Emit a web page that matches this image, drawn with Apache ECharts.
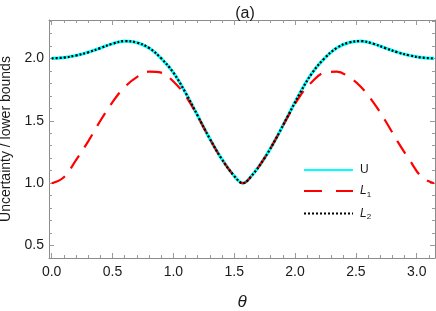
<!DOCTYPE html>
<html>
<head>
<meta charset="utf-8">
<script src="https://cdn.jsdelivr.net/npm/echarts@6/dist/echarts.min.js"></script>
<style>html,body{margin:0;padding:0;background:#fff;}#c{width:436px;height:311px;}</style>
</head>
<body>
<div id="c"></div>
<script>
// ---- data ----
const thetaVals = [0.000,0.100,0.200,0.300,0.400,0.500,0.600,0.700,0.800,0.900,1.000,1.100,1.200,1.300,1.400,1.500,1.571,
                   1.642,1.742,1.842,1.942,2.042,2.142,2.242,2.342,2.442,2.542,2.642,2.742,2.842,2.942,3.042,3.142];
const uVals  = [2.000,2.006,2.023,2.048,2.082,2.117,2.138,2.126,2.083,2.000,1.885,1.725,1.540,1.355,1.190,1.058,1.000,
                1.058,1.190,1.355,1.540,1.725,1.885,2.000,2.083,2.126,2.138,2.117,2.082,2.048,2.023,2.006,2.000];
const l1Vals = [1.000,1.048,1.185,1.335,1.500,1.650,1.770,1.850,1.893,1.885,1.815,1.700,1.535,1.355,1.190,1.058,1.000,
                1.058,1.190,1.355,1.535,1.700,1.815,1.885,1.893,1.850,1.770,1.650,1.500,1.335,1.185,1.048,1.000];
const l2Vals = [2.000,2.006,2.023,2.048,2.082,2.117,2.138,2.126,2.083,2.000,1.885,1.725,1.540,1.355,1.190,1.058,1.000,
                1.058,1.190,1.355,1.540,1.725,1.885,2.000,2.083,2.126,2.138,2.117,2.082,2.048,2.023,2.006,2.000];
const seriesNames = ['U','L1','L2'];
const xTickLabels = [0.0,0.5,1.0,1.5,2.0,2.5,3.0];
const yTickLabels = [0.5,1.0,1.5,2.0];
const xMinorTicks = []; for (let i = 0; i <= 31; i++) xMinorTicks.push(+(i*0.1).toFixed(1));
const yMinorTicks = []; for (let i = 5; i <= 23; i++) yMinorTicks.push(+(i*0.1).toFixed(1));

const X_MIN = -0.022, X_MAX = 3.150, Y_MIN = 0.401, Y_MAX = 2.307;
const frameColor = '#8c8c8c', tickColor = '#9a9a9a', txt = '#1a1a1a';
const font = 'Liberation Sans, Arial, sans-serif';

function pairs(xs, ys){ return xs.map((x,i)=>[x, ys[i]]); }

function xAx(pos, ticks, len, showLine, labels){
  return {type:'value', min:X_MIN, max:X_MAX, position:pos,
    axisLine:{show:showLine, onZero:false, lineStyle:{color:frameColor, width:1}},
    axisTick:{show:true, inside:true, length:len, customValues:ticks, lineStyle:{color:tickColor, width:1}},
    axisLabel: labels ? {show:true, customValues:xTickLabels, formatter:v=>(+v).toFixed(1), margin:7,
                         fontSize:14, color:txt, fontFamily:font} : {show:false},
    splitLine:{show:false}};
}
function yAx(pos, ticks, len, showLine, labels){
  return {type:'value', min:Y_MIN, max:Y_MAX, position:pos,
    axisLine:{show:showLine, onZero:false, lineStyle:{color:frameColor, width:1}},
    axisTick:{show:true, inside:true, length:len, customValues:ticks, lineStyle:{color:tickColor, width:1}},
    axisLabel: labels ? {show:true, customValues:yTickLabels, formatter:v=>(+v).toFixed(1), margin:5,
                         fontSize:14, color:txt, fontFamily:font} : {show:false},
    splitLine:{show:false}};
}

const xAxes = [xAx('bottom', xTickLabels, 5, true, true), xAx('bottom', xMinorTicks, 3, false, false),
               xAx('top', xTickLabels, 5, true, false), xAx('top', xMinorTicks, 3, false, false)];
Object.assign(xAxes[0], {name:'θ', nameLocation:'middle', nameGap:36,
  nameTextStyle:{fontStyle:'italic', fontSize:17, color:txt, fontFamily:font}});
const yAxes = [yAx('left', yTickLabels, 5, true, true), yAx('left', yMinorTicks, 3, false, false),
               yAx('right', yTickLabels, 5, true, false), yAx('right', yMinorTicks, 3, false, false)];
Object.assign(yAxes[0], {name:'Uncertainty / lower bounds', nameLocation:'middle', nameGap:36,
  nameTextStyle:{fontSize:14, color:txt, fontFamily:font}});

const chart = echarts.init(document.getElementById('c'), null, {renderer:'canvas'});
chart.setOption({
  animation:false,
  backgroundColor:'#ffffff',
  title:{text:'(a)', left:240, top:1, textAlign:'center',
    textStyle:{fontSize:16, fontWeight:'normal', color:txt, fontFamily:font}},
  grid:{left:49, right:1, top:20, bottom:53, containLabel:false, outerBoundsMode:'none'},
  xAxis:xAxes, yAxis:yAxes,
  legend:{orient:'vertical', left:298, top:159, itemWidth:49, itemHeight:14, itemGap:9,
    itemStyle:{opacity:0},
    data:[{name:'U'}, {name:'L1', lineStyle:{type:[18,14]}}, {name:'L2'}],
    formatter:n => n==='U' ? '{u|U}' : '{it|L}{sub|' + n.slice(1) + '}',
    textStyle:{fontFamily:font, color:txt, padding:[0,0,0,2],
      rich:{u:{fontSize:12, fontFamily:font, color:txt},
            it:{fontSize:12, fontStyle:'italic', fontFamily:font, color:txt},
            sub:{fontSize:8, fontFamily:font, color:txt, padding:[7,0,0,0]}}}},
  series:[
    {name:seriesNames[0], type:'line', data:pairs(thetaVals,uVals), smooth:0.4, symbol:'none',
      lineStyle:{color:'#00ffff', width:3.2}, itemStyle:{color:'#00ffff'}, z:2},
    {name:seriesNames[1], type:'line', data:pairs(thetaVals,l1Vals), smooth:0.4, symbol:'none',
      lineStyle:{color:'#ff0000', width:2.2, type:[15,10]}, itemStyle:{color:'#ff0000'}, z:3},
    {name:seriesNames[2], type:'line', data:pairs(thetaVals,l2Vals), smooth:0.4, symbol:'none',
      lineStyle:{color:'#000000', width:2.2, type:[2,2]}, itemStyle:{color:'#000000'}, z:4}
  ]
});
</script>
</body>
</html>
